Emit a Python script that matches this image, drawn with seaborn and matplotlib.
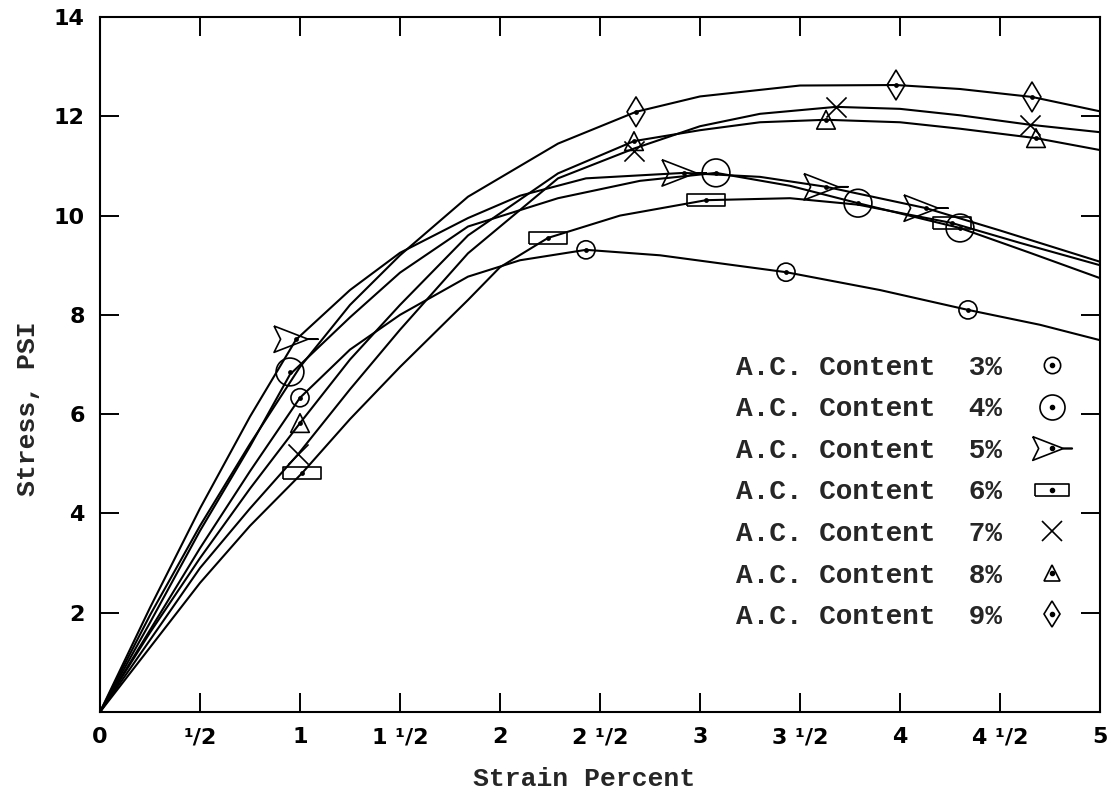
import matplotlib
matplotlib.use("Agg")
import matplotlib.pyplot as plt
from matplotlib.lines import Line2D
import pandas as pd
import seaborn as sns

# Asphalt-cement content of each specimen series
contents = ["3%", "4%", "5%", "6%", "7%", "8%", "9%"]

# Stress-strain curves (strain in percent, stress in psi)
strain_3 = [0, 0.25, 0.5, 0.75, 1.0, 1.25, 1.5, 1.84, 2.1, 2.43, 2.8, 3.43, 3.9, 4.34, 4.7, 5.0]
stress_3 = [0, 1.65, 3.3, 4.85, 6.33, 7.3, 8.0, 8.77, 9.1, 9.31, 9.2, 8.86, 8.5, 8.1, 7.8, 7.49]

strain_4 = [0, 0.25, 0.5, 0.75, 0.95, 1.25, 1.5, 1.84, 2.29, 2.7, 3.08, 3.45, 3.79, 4.3, 4.65, 5.0]
stress_4 = [0, 1.8, 3.65, 5.35, 6.8, 7.95, 8.85, 9.78, 10.35, 10.7, 10.86, 10.6, 10.25, 9.75, 9.25, 8.74]

strain_5 = [0, 0.25, 0.5, 0.75, 0.98, 1.25, 1.5, 1.84, 2.1, 2.43, 2.92, 3.3, 3.63, 4.13, 4.5, 5.0]
stress_5 = [0, 2.1, 4.1, 5.95, 7.5, 8.5, 9.25, 9.95, 10.4, 10.75, 10.86, 10.78, 10.58, 10.15, 9.7, 9.07]

strain_6 = [0, 0.25, 0.5, 0.75, 1.01, 1.25, 1.5, 1.84, 2.0, 2.24, 2.6, 3.03, 3.45, 3.79, 4.26, 4.6, 5.0]
stress_6 = [0, 1.3, 2.6, 3.75, 4.81, 5.9, 6.95, 8.3, 8.96, 9.55, 10.0, 10.31, 10.35, 10.22, 9.85, 9.45, 9.0]

strain_7 = [0, 0.25, 0.5, 0.75, 0.99, 1.25, 1.5, 1.84, 2.29, 2.67, 3.0, 3.3, 3.68, 4.0, 4.3, 4.65, 5.0]
stress_7 = [0, 1.45, 2.9, 4.1, 5.19, 6.5, 7.7, 9.24, 10.75, 11.35, 11.8, 12.05, 12.19, 12.15, 12.02, 11.83, 11.68]

strain_8 = [0, 0.25, 0.5, 0.75, 1.0, 1.25, 1.5, 1.84, 2.29, 2.67, 3.0, 3.3, 3.63, 4.0, 4.3, 4.68, 5.0]
stress_8 = [0, 1.6, 3.1, 4.5, 5.82, 7.1, 8.2, 9.6, 10.85, 11.5, 11.72, 11.88, 11.93, 11.88, 11.75, 11.56, 11.32]

strain_9 = [0, 0.25, 0.5, 0.75, 1.0, 1.25, 1.5, 1.84, 2.29, 2.68, 3.0, 3.5, 3.98, 4.3, 4.66, 5.0]
stress_9 = [0, 1.95, 3.75, 5.4, 6.95, 8.2, 9.2, 10.38, 11.45, 12.09, 12.4, 12.62, 12.63, 12.55, 12.39, 12.1]

# Measured test points plotted on each curve
point_strain_3 = [1.0, 2.43, 3.43, 4.34]
point_stress_3 = [6.33, 9.31, 8.86, 8.10]
point_strain_4 = [0.95, 3.08, 3.79, 4.30]
point_stress_4 = [6.85, 10.86, 10.25, 9.75]
point_strain_5 = [0.98, 2.92, 3.63, 4.13]
point_stress_5 = [7.51, 10.86, 10.58, 10.15]
point_strain_6 = [1.01, 2.24, 3.03, 4.26]
point_stress_6 = [4.81, 9.55, 10.31, 9.85]
point_strain_7 = [0.99, 2.67, 3.68, 4.65]
point_stress_7 = [5.19, 11.30, 12.19, 11.83]
point_strain_8 = [1.0, 2.67, 3.63, 4.68]
point_stress_8 = [5.82, 11.50, 11.93, 11.56]
point_strain_9 = [2.68, 3.98, 4.66]
point_stress_9 = [12.09, 12.63, 12.39]

x_ticks = [0, 0.5, 1, 1.5, 2, 2.5, 3, 3.5, 4, 4.5, 5]
x_tick_labels = ["0", "¹/2", "1", "1 ¹/2", "2", "2 ¹/2", "3", "3 ¹/2", "4", "4 ¹/2", "5"]
y_ticks = [2, 4, 6, 8, 10, 12, 14]
y_tick_labels = ["2", "4", "6", "8", "10", "12", "14"]

curve_strain = [strain_3, strain_4, strain_5, strain_6, strain_7, strain_8, strain_9]
curve_stress = [stress_3, stress_4, stress_5, stress_6, stress_7, stress_8, stress_9]
pts_strain = [point_strain_3, point_strain_4, point_strain_5, point_strain_6,
              point_strain_7, point_strain_8, point_strain_9]
pts_stress = [point_stress_3, point_stress_4, point_stress_5, point_stress_6,
              point_stress_7, point_stress_8, point_stress_9]

curves = pd.concat(
    [pd.DataFrame({"content": c, "strain": xs, "stress": ys})
     for c, xs, ys in zip(contents, curve_strain, curve_stress)],
    ignore_index=True,
)
points = pd.concat(
    [pd.DataFrame({"content": c, "strain": xs, "stress": ys})
     for c, xs, ys in zip(contents, pts_strain, pts_stress)],
    ignore_index=True,
)

# Hand-style symbols for each series (closed outlines)
dart = [(-1, 0.6), (0.55, 0.0), (1.0, 0.0), (0.55, 0.0), (-1, -0.6), (-0.7, 0.0), (-1, 0.6)]
slab = [(-1.5, -0.5), (1.5, -0.5), (1.5, 0.5), (-1.5, 0.5), (-1.5, -0.5)]
symbols = {
    "3%": dict(marker="o", s=170),
    "4%": dict(marker="o", s=400),
    "5%": dict(marker=dart, s=1000),
    "6%": dict(marker=slab, s=720),
    "7%": dict(marker="x", s=210),
    "8%": dict(marker="^", s=180),
    "9%": dict(marker="d", s=230),
}

sns.set_theme(style="ticks")
plt.rcParams["font.family"] = ["DejaVu Sans"]
plt.rcParams["axes.linewidth"] = 1.5

fig = plt.figure(figsize=(11.11, 7.99), dpi=100)
ax = fig.add_axes([0.0900, 0.1089, 0.9001, 0.8698])

sns.lineplot(
    data=curves, x="strain", y="stress", hue="content",
    palette={c: "black" for c in contents}, units="content",
    estimator=None, sort=False, linewidth=1.5, legend=False, ax=ax,
)

for c in contents:
    sub = points[points["content"] == c]
    spec = symbols[c]
    if spec["marker"] == "x":
        sns.scatterplot(data=sub, x="strain", y="stress", marker="x", s=spec["s"],
                        color="black", linewidth=1.2, ax=ax, zorder=3)
    else:
        sns.scatterplot(data=sub, x="strain", y="stress", marker=spec["marker"],
                        s=spec["s"], facecolor="none", edgecolor="black",
                        linewidth=1.2, ax=ax, zorder=3)

dots = points[points["content"] != "7%"]
sns.scatterplot(data=dots, x="strain", y="stress", marker="o", s=12,
                color="black", linewidth=0, ax=ax, zorder=4)

ax.set_xlim(0, 5)
ax.set_ylim(0, 14)
ax.set_xticks(x_ticks)
ax.set_xticklabels(x_tick_labels)
ax.set_yticks(y_ticks)
ax.set_yticklabels(y_tick_labels)
ax.tick_params(axis="both", which="major", direction="in", length=14, width=1.4,
               top=True, right=True, labelsize=16, colors="black", pad=11)
for lab in ax.get_xticklabels() + ax.get_yticklabels():
    lab.set_fontfamily("DejaVu Sans")
    lab.set_fontweight("bold")

for side in ["left", "right", "top", "bottom"]:
    ax.spines[side].set_visible(True)
    ax.spines[side].set_color("black")
    ax.spines[side].set_linewidth(1.5)

mono = dict(family="Liberation Mono", weight="bold", size=19)
ax.set_xlabel("Strain Percent", fontdict=mono)
ax.set_ylabel("Stress, PSI", fontdict=mono)
ax.xaxis.set_label_coords(0.484, -0.079)
ax.yaxis.set_label_coords(-0.060, 0.437)

handles = []
labels = []
for c in contents:
    spec = symbols[c]
    ms = spec["s"] ** 0.5
    if spec["marker"] == "x":
        h = Line2D([], [], marker="x", linestyle="none", color="black", markersize=ms, mew=1.2)
    else:
        outer = Line2D([], [], marker=spec["marker"], linestyle="none", mfc="none",
                       mec="black", markersize=ms * 0.9, mew=1.2)
        dot = Line2D([], [], marker="o", linestyle="none", color="black", markersize=3)
        h = (outer, dot)
    handles.append(h)
    labels.append(f"A.C. Content  {c}")

legend_font = dict(family="Liberation Mono", weight="bold", size=20)
leg = ax.legend(
    handles, labels, loc="upper left", bbox_to_anchor=(0.636, 0.514),
    frameon=False, markerfirst=False, prop=legend_font, labelspacing=0.56,
    handlelength=2.0, handletextpad=0.8, borderpad=0, borderaxespad=0,
)

fig.savefig("out.png", dpi=100, facecolor="white")
